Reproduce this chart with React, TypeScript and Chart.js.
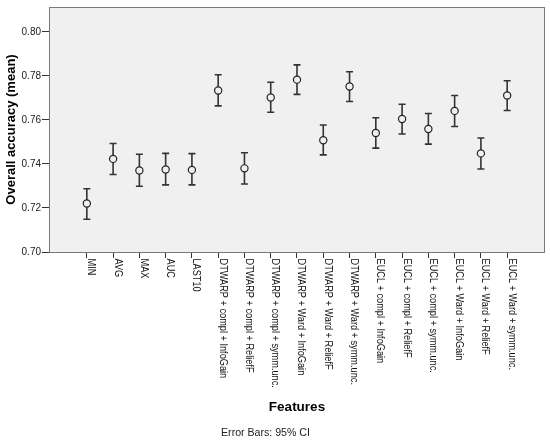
import React, { useEffect, useRef } from "react";
import { Chart, registerables } from "chart.js";

Chart.register(...registerables);

const categories: string[] = [
  "MIN",
  "AVG",
  "MAX",
  "AUC",
  "LAST10",
  "DTWARP + compl + InfoGain",
  "DTWARP + compl + ReliefF",
  "DTWARP + compl + symm.unc.",
  "DTWARP + Ward + InfoGain",
  "DTWARP + Ward + ReliefF",
  "DTWARP + Ward + symm.unc.",
  "EUCL + compl + InfoGain",
  "EUCL + compl + ReliefF",
  "EUCL + compl + symm.unc.",
  "EUCL + Ward + InfoGain",
  "EUCL + Ward + ReliefF",
  "EUCL + Ward + symm.unc.",
];

const means: number[] = [
  0.722, 0.7423, 0.737, 0.7375, 0.7373, 0.7734, 0.738, 0.7702, 0.7783,
  0.7508, 0.7752, 0.7541, 0.7604, 0.7559, 0.7641, 0.7448, 0.7711,
];
const upper: number[] = [
  0.7287, 0.7493, 0.7444, 0.7448, 0.7447, 0.7805, 0.7451, 0.7771, 0.785,
  0.7577, 0.7819, 0.761, 0.7671, 0.7629, 0.7711, 0.7518, 0.7778,
];
const lower: number[] = [
  0.7149, 0.7352, 0.7299, 0.7305, 0.7305, 0.7664, 0.7309, 0.7635, 0.7716,
  0.7441, 0.7684, 0.7472, 0.7536, 0.749, 0.757, 0.7377, 0.7643,
];

const yTicks: number[] = [0.7, 0.72, 0.74, 0.76, 0.78, 0.8];

const FONT = "'Liberation Sans', Arial, sans-serif";

export default function App() {
  const ref = useRef<HTMLCanvasElement | null>(null);

  useEffect(() => {
    document.body.style.margin = "0";
    const canvas = ref.current;
    if (!canvas) return;

    const errorBars = {
      id: "errorBars",
      beforeDatasetsDraw(chart: any) {
        const { ctx, scales } = chart;
        const xs = scales.x;
        const ys = scales.y;
        ctx.save();
        ctx.strokeStyle = "#333333";
        ctx.lineWidth = 1.6;
        for (let i = 0; i < means.length; i++) {
          const x = xs.getPixelForValue(i);
          const yt = ys.getPixelForValue(upper[i]);
          const yb = ys.getPixelForValue(lower[i]);
          ctx.beginPath();
          ctx.moveTo(x, yt);
          ctx.lineTo(x, yb);
          ctx.moveTo(x - 3.5, yt);
          ctx.lineTo(x + 3.5, yt);
          ctx.moveTo(x - 3.5, yb);
          ctx.lineTo(x + 3.5, yb);
          ctx.stroke();
        }
        ctx.restore();
      },
    };

    const background = {
      id: "plotBg",
      beforeDraw(chart: any) {
        const { ctx, chartArea } = chart;
        ctx.save();
        ctx.fillStyle = "#f0f0f0";
        ctx.fillRect(
          chartArea.left,
          chartArea.top,
          chartArea.right - chartArea.left,
          chartArea.bottom - chartArea.top
        );
        ctx.restore();
      },
      afterDraw(chart: any) {
        const { ctx, chartArea, scales } = chart;
        ctx.save();
        ctx.strokeStyle = "#7a7a7a";
        ctx.lineWidth = 1;
        ctx.strokeRect(
          chartArea.left + 0.5,
          chartArea.top + 0.5,
          chartArea.right - chartArea.left - 1,
          chartArea.bottom - chartArea.top
        );
        // rotated category labels (reading top to bottom)
        ctx.fillStyle = "#111111";
        ctx.font = `9.2px ${FONT}`;
        ctx.textAlign = "left";
        ctx.textBaseline = "middle";
        const xs = scales.x;
        for (let i = 0; i < categories.length; i++) {
          const x = xs.getPixelForValue(i) + 4.5;
          ctx.save();
          ctx.translate(x, chartArea.bottom + 6.5);
          ctx.rotate(Math.PI / 2);
          ctx.scale(1, 1.2);
          ctx.fillText(categories[i], 0, 0);
          ctx.restore();
        }
        // axis title
        ctx.font = `bold 13.5px ${FONT}`;
        ctx.textAlign = "center";
        ctx.fillStyle = "#000000";
        ctx.fillText("Features", (chartArea.left + chartArea.right) / 2, 407);
        // footnote
        ctx.font = `10.6px ${FONT}`;
        ctx.fillStyle = "#222222";
        ctx.fillText("Error Bars: 95% CI", 265.5, 433);
        ctx.restore();
      },
    };

    const chart = new Chart(canvas, {
      type: "scatter",
      data: {
        datasets: [
          {
            data: means.map((v, i) => ({ x: i, y: v })),
            pointStyle: "circle",
            pointRadius: 3.6,
            pointHoverRadius: 3.6,
            pointBorderWidth: 1.2,
            pointBorderColor: "#222222",
            pointBackgroundColor: "#f0f0f0",
            showLine: false,
          },
        ],
      },
      options: {
        animation: false,
        responsive: false,
        maintainAspectRatio: false,
        devicePixelRatio: 1,
        layout: { padding: { top: 4, right: 5, left: 0, bottom: 0 } },
        plugins: {
          legend: { display: false },
          tooltip: { enabled: false },
          title: { display: false },
        },
        events: [],
        scales: {
          x: {
            type: "linear",
            min: -1.44,
            max: 17.44,
            afterBuildTicks(scale: any) {
              scale.ticks = categories.map((_, i) => ({ value: i }));
            },
            afterFit(scale: any) {
              scale.height = 444 - 252;
            },
            ticks: { display: false },
            grid: {
              drawOnChartArea: false,
              drawTicks: true,
              tickLength: 6,
              color: "#333333",
              lineWidth: 1,
            },
            border: { display: false },
          },
          y: {
            type: "linear",
            min: 0.7,
            max: 0.8113,
            afterBuildTicks(scale: any) {
              scale.ticks = yTicks.map((v) => ({ value: v }));
            },
            afterFit(scale: any) {
              scale.width = 49;
            },
            ticks: {
              includeBounds: false,
              padding: 1,
              color: "#222222",
              font: { family: FONT, size: 10 },
              callback: (v: any) => Number(v).toFixed(2),
            },
            grid: {
              drawOnChartArea: false,
              drawTicks: true,
              tickLength: 7,
              color: "#333333",
              lineWidth: 1,
            },
            border: { display: false },
            title: {
              display: true,
              text: "Overall accuracy (mean)",
              color: "#000000",
              font: { family: FONT, size: 13, weight: "bold" },
              padding: { top: 4, bottom: 4 },
            },
          },
        },
      },
      plugins: [background, errorBars],
    });

    return () => {
      chart.destroy();
    };
  }, []);

  return (
    <div style={{ width: 550, height: 444, background: "#ffffff" }}>
      <canvas ref={ref} width={550} height={444} style={{ display: "block" }} />
    </div>
  );
}
